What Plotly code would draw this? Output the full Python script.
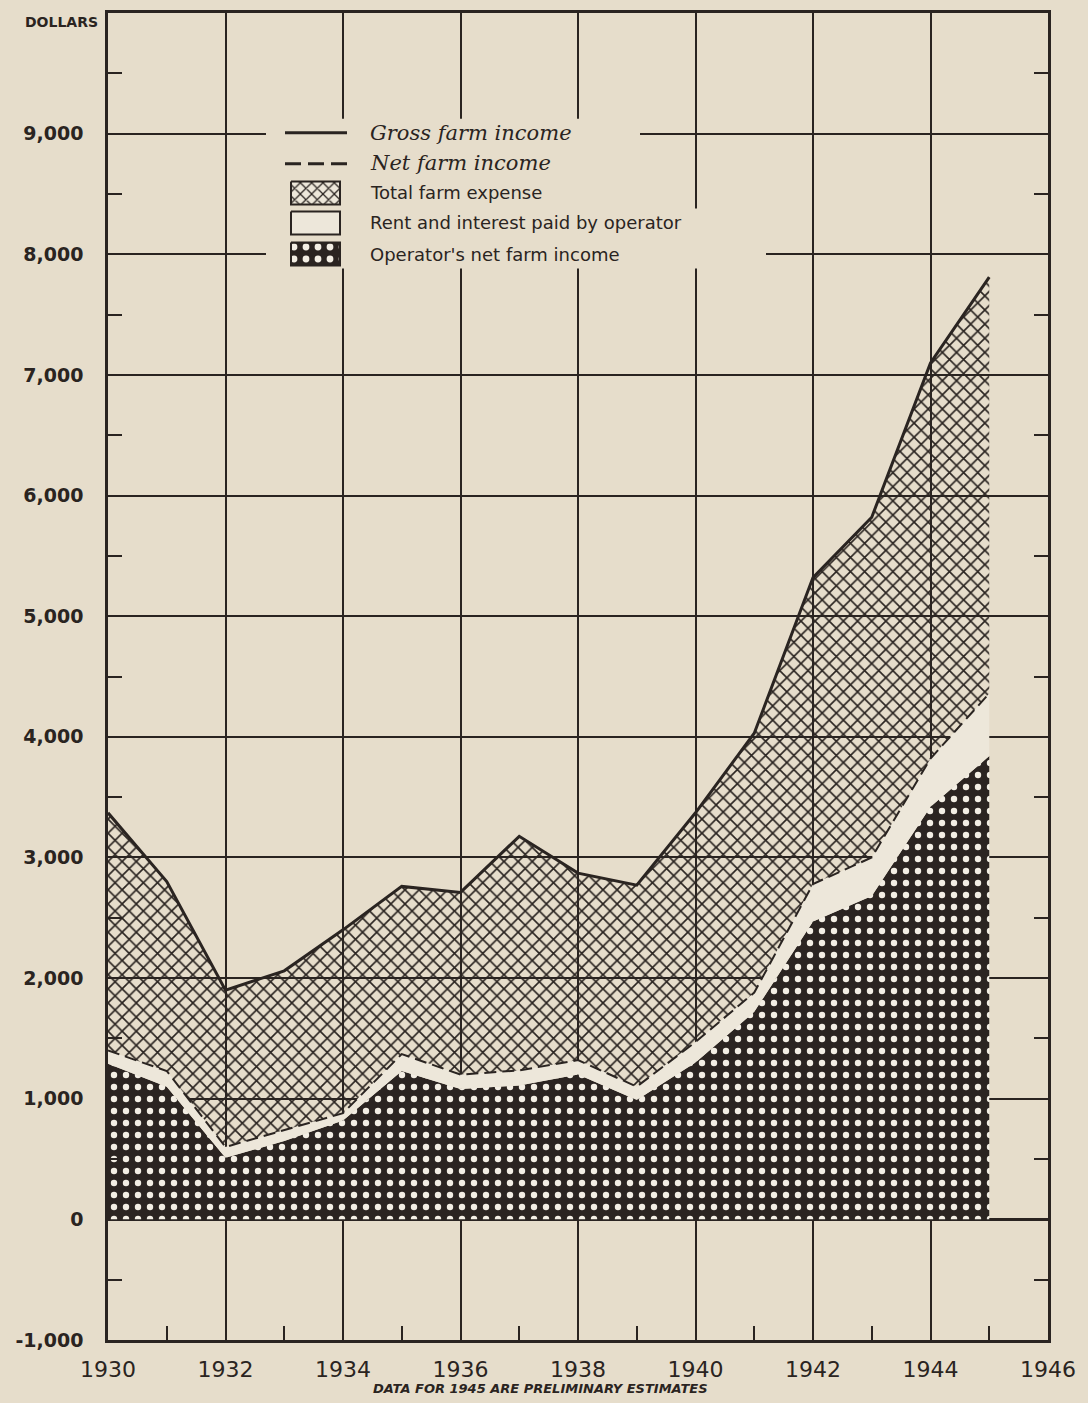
import plotly.graph_objects as go

# ---------------- data (dollars per farm operator) ----------------
years = list(range(1930, 1946))
gross_farm_income = [3370, 2800, 1900, 2060, 2400, 2760, 2710, 3175, 2870, 2770, 3370, 4030, 5320, 5820, 7100, 7810]
net_farm_income = [1400, 1230, 600, 740, 880, 1370, 1200, 1235, 1320, 1100, 1470, 1880, 2780, 3000, 3820, 4360]
operator_net_income = [1290, 1100, 510, 650, 820, 1230, 1080, 1110, 1200, 990, 1300, 1720, 2470, 2680, 3420, 3840]

y_tickvals = [-1000, 0, 1000, 2000, 3000, 4000, 5000, 6000, 7000, 8000, 9000]
y_ticktext = ["-1,000", "0", "1,000", "2,000", "3,000", "4,000", "5,000", "6,000", "7,000", "8,000", "9,000"]
x_tickvals = [1930, 1932, 1934, 1936, 1938, 1940, 1942, 1944, 1946]

legend_labels = ["Gross farm income", "Net farm income", "Total farm expense",
                 "Rent and interest paid by operator", "Operator's net farm income"]

# ---------------- style ----------------
PAPER = "#e6ddcb"
INK = "#2a2421"
LIGHT = "#ede7da"
DOT_BG = "#2b2421"
DOT_FG = "#f3eee4"

fig = go.Figure()

# operator's net farm income (dark dotted)
fig.add_trace(go.Scatter(
    x=years, y=operator_net_income, mode="lines", line=dict(width=0, color=DOT_BG),
    fill="tozeroy", fillcolor=DOT_BG,
    fillpattern=dict(shape=".", fgcolor=DOT_FG, bgcolor=DOT_BG, fgopacity=1, size=12, solidity=0.22),
    hoverinfo="skip", showlegend=False))

# rent and interest (light band) bounded by net farm income (dashed)
fig.add_trace(go.Scatter(
    x=years, y=net_farm_income, mode="lines",
    line=dict(width=2, color=INK, dash="12px,6px"),
    fill="tonexty", fillcolor=LIGHT,
    hoverinfo="skip", showlegend=False))

# total farm expense (crosshatch) bounded by gross farm income (solid)
fig.add_trace(go.Scatter(
    x=years, y=gross_farm_income, mode="lines",
    line=dict(width=3, color=INK),
    fill="tonexty", fillcolor="rgba(0,0,0,0)",
    fillpattern=dict(shape="x", fgcolor=INK, bgcolor="rgba(0,0,0,0)", fgopacity=1, size=10, solidity=0.3),
    hoverinfo="skip", showlegend=False))

# ---------------- custom legend on an overlay pixel-like axis ----------------
def leg(trace):
    trace.update(xaxis="x2", yaxis="y2", hoverinfo="skip", showlegend=False)
    fig.add_trace(trace)

# background patch hiding grid behind legend
leg(go.Scatter(x=[266, 640, 640, 766, 766, 266, 266], y=[116, 116, 206, 206, 266, 266, 116],
               mode="lines", line=dict(width=0, color=PAPER), fill="toself", fillcolor=PAPER))
leg(go.Scatter(x=[285, 347], y=[130, 130], mode="lines", line=dict(width=3, color=INK)))
leg(go.Scatter(x=[285, 347], y=[161, 161], mode="lines", line=dict(width=3, color=INK, dash="16px,7px")))
leg(go.Scatter(x=[291, 340, 340, 291, 291], y=[179, 179, 202, 202, 179], mode="lines",
               line=dict(width=2, color=INK), fill="toself", fillcolor=LIGHT,
               fillpattern=dict(shape="x", fgcolor=INK, bgcolor=LIGHT, fgopacity=1, size=8, solidity=0.3)))
leg(go.Scatter(x=[291, 340, 340, 291, 291], y=[209, 209, 232, 232, 209], mode="lines",
               line=dict(width=2, color=INK), fill="toself", fillcolor=LIGHT))
leg(go.Scatter(x=[291, 340, 340, 291, 291], y=[240, 240, 263, 263, 240], mode="lines",
               line=dict(width=2, color=INK), fill="toself", fillcolor=DOT_BG,
               fillpattern=dict(shape=".", fgcolor=DOT_FG, bgcolor=DOT_BG, fgopacity=1, size=12, solidity=0.25)))

annotations = []
serif = dict(family="DejaVu Serif", size=21, color=INK, style="italic")
sans = dict(family="DejaVu Sans", size=18, color=INK)
for label, yy, f in zip(legend_labels, [130, 160, 190, 220, 252], [serif, serif, sans, sans, sans]):
    annotations.append(dict(text=label, x=368, y=yy, xref="x2", yref="y2", xanchor="left",
                            yanchor="middle", showarrow=False, font=f))

annotations.append(dict(text="<b>DOLLARS</b>", x=-0.008, y=0.9935, xref="paper", yref="paper",
                        xanchor="right", yanchor="middle", showarrow=False,
                        font=dict(family="DejaVu Sans", size=14, color=INK)))
annotations.append(dict(text="<b><i>DATA FOR 1945 ARE PRELIMINARY ESTIMATES</i></b>", x=0.4596, y=-0.0368,
                        xref="paper", yref="paper", xanchor="center", yanchor="middle", showarrow=False,
                        font=dict(family="DejaVu Sans", size=13, color=INK)))

fig.update_layout(
    width=1088, height=1403,
    paper_bgcolor=PAPER, plot_bgcolor=PAPER,
    margin=dict(l=108, r=40, t=10, b=63),
    showlegend=False,
    annotations=annotations,
    xaxis=dict(range=[1930, 1946], tickmode="array", tickvals=x_tickvals, ticks="",
               showgrid=True, gridcolor=INK, gridwidth=1.6,
               showline=True, linecolor=INK, linewidth=2.5, mirror=True,
               zeroline=False, ticklabelstandoff=8,
               tickfont=dict(family="DejaVu Sans", size=22, color=INK),
               minor=dict(tickmode="linear", tick0=1931, dtick=2, ticks="inside", ticklen=14,
                          tickwidth=1.6, tickcolor=INK, showgrid=False)),
    yaxis=dict(range=[-1000, 10000], tickmode="array", tickvals=y_tickvals, ticktext=y_ticktext,
               ticks="", showgrid=True, gridcolor=INK, gridwidth=1.6,
               showline=True, linecolor=INK, linewidth=2.5, mirror="allticks",
               zeroline=True, zerolinecolor=INK, zerolinewidth=3, ticklabelstandoff=18,
               tickfont=dict(family="DejaVu Sans", size=19, color=INK, weight="bold"),
               minor=dict(tickmode="linear", tick0=500, dtick=1000, ticks="inside", ticklen=14,
                          tickwidth=1.6, tickcolor=INK, showgrid=False)),
    xaxis2=dict(overlaying="x", anchor="y2", range=[108, 1048], visible=False, fixedrange=True),
    yaxis2=dict(overlaying="y", anchor="x2", range=[1340, 10], visible=False, fixedrange=True),
)

fig.write_html("out.html", config={"displayModeBar": False},
               post_script="document.body.style.margin='0';document.body.style.background='%s';" % PAPER)
